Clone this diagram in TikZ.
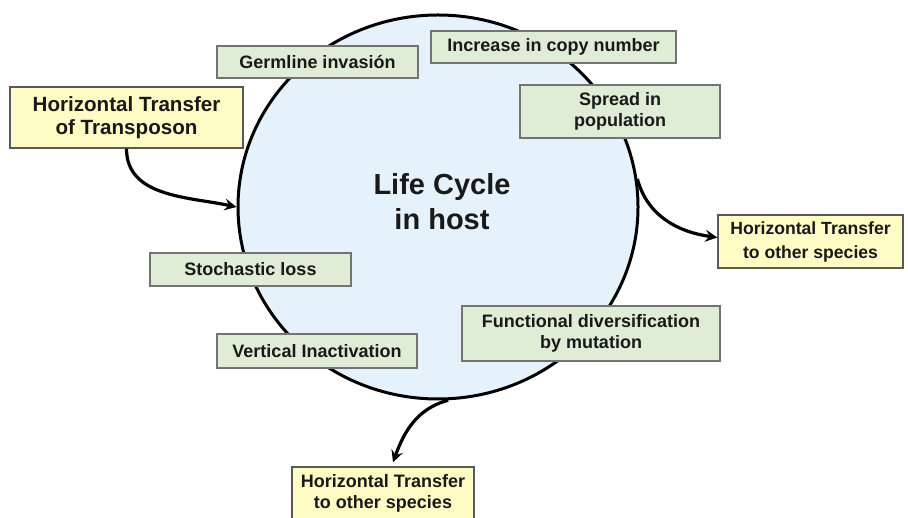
\documentclass[tikz,border=0pt]{standalone}
\usepackage{fontspec}
\setmainfont{Liberation Sans}
\usepackage{tikz}
\usetikzlibrary{shapes.geometric}
\definecolor{hostblue}{RGB}{229,242,252}
\definecolor{stagegreen}{RGB}{224,237,214}
\definecolor{transferyellow}{RGB}{255,251,196}
\definecolor{boxgrey}{RGB}{115,115,115}

\begin{document}
\begin{tikzpicture}[x=0.5pt,y=0.5pt,
    stage/.style={draw=boxgrey,fill=stagegreen,line width=0.7pt,inner sep=0pt,
      align=center,text=black!90,font=\bfseries\fontsize{9}{10.5}\selectfont},
    transfer/.style={draw=black!65,fill=transferyellow,line width=0.7pt,inner sep=0pt,
      align=center,text=black!90},
    flow/.style={-stealth,line width=1.6pt}]
  \useasboundingbox (0,0) rectangle (908,518);
  % host circle
  \node[ellipse,draw,line width=1.5pt,fill=hostblue,minimum width=200pt,
    minimum height=192pt] (host) at (438,311) {};
  \node[font=\bfseries\fontsize{14.5}{17.5}\selectfont,align=center,text=black!90]
    (title) at (442,316) {Life Cycle\\in host};
  % stages round the circle
  \node[stage,minimum width=100.5pt,minimum height=16pt] (germ) at (317.5,456) {Germline invasión};
  \node[stage,minimum width=122.5pt,minimum height=16pt] (copy) at (553.5,471) {Increase in copy number};
  \node[stage,minimum width=100pt,minimum height=26.5pt] (spread) at (620,406.5) {Spread in\\population};
  \node[stage,minimum width=100.5pt,minimum height=16.5pt] (loss) at (250.5,248.5) {Stochastic loss};
  \node[stage,minimum width=100pt,minimum height=17pt] (inact) at (317,167) {Vertical Inactivation};
  \node[stage,minimum width=129pt,minimum height=27.5pt] (divers) at (591,184.5) {Functional diversification\\by mutation};
  % transfers in and out
  \node[transfer,minimum width=116.5pt,minimum height=30.5pt,
    font=\bfseries\fontsize{10.3}{11.5}\selectfont] (hgtin) at (126.5,400.5)
    {Horizontal Transfer\\of Transposon};
  \node[transfer,minimum width=92.5pt,minimum height=26.5pt,
    font=\bfseries\fontsize{8.8}{12}\selectfont] (hgtright) at (810.5,276.5)
    {Horizontal Transfer\\to other species};
  \node[transfer,minimum width=91pt,minimum height=26.5pt,
    font=\bfseries\fontsize{9}{10.5}\selectfont] (hgtdown) at (383,24.5)
    {Horizontal Transfer\\to other species};
  \draw[flow] (hgtin.south) to[out=-90,in=168] (host.west);
  \draw[flow] (host.8) to[out=-75,in=172] ([yshift=2pt]hgtright.west);
  \draw[flow] (host.-87) to[out=195,in=70] ([xshift=5pt,yshift=2pt]hgtdown.north);
\end{tikzpicture}
\end{document}
